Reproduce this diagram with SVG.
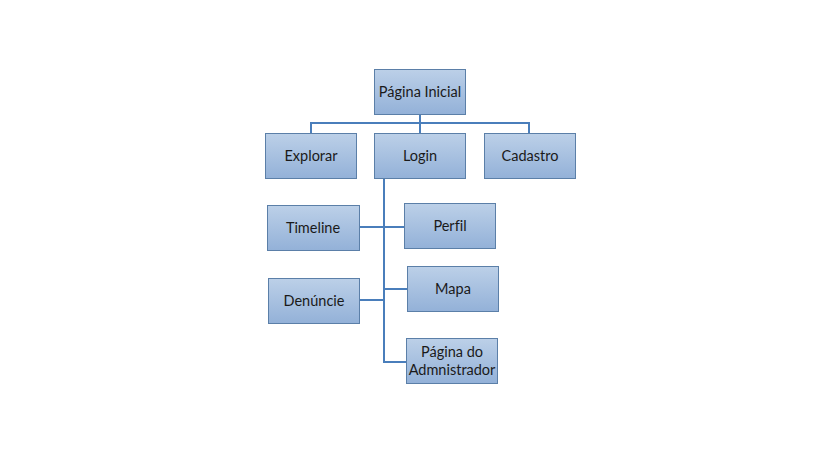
<svg xmlns="http://www.w3.org/2000/svg" width="824" height="475" viewBox="0 0 824 475">
<defs>
<linearGradient id="g" x1="0" y1="0" x2="0" y2="1">
<stop offset="0" stop-color="#bcd0e8"/>
<stop offset="1" stop-color="#93b1d8"/>
</linearGradient>
<style>
.box{fill:url(#g);stroke:#5b7fa8;stroke-width:1}
.t{font-family:Lato,"Liberation Sans",sans-serif;font-size:14.5px;fill:#1a1a1a;text-anchor:middle;font-variant-ligatures:none;font-feature-settings:"liga" 0}
.c{fill:none;stroke:#4a7ebb;stroke-width:2}
</style>
</defs>
<rect width="824" height="475" fill="#ffffff"/>
<g id="connectors">
<path class="c" d="M420 114V123M311 134V123H529V134M420 123V134"/>
<path class="c" d="M384 178V362H406"/>
<path class="c" d="M359 227H404"/>
<path class="c" d="M359 300H384"/>
<path class="c" d="M384 289H407"/>
</g>
<g id="pagina-inicial"><rect class="box" x="374.5" y="69.5" width="91" height="45"/><text class="t" x="420" y="97">Página Inicial</text></g>
<g id="explorar"><rect class="box" x="265.5" y="133.5" width="91" height="45"/><text class="t" x="311" y="161">Explorar</text></g>
<g id="login"><rect class="box" x="374.5" y="133.5" width="91" height="45"/><text class="t" x="420" y="161">Login</text></g>
<g id="cadastro"><rect class="box" x="484.5" y="133.5" width="91" height="45"/><text class="t" x="530" y="161">Cadastro</text></g>
<g id="timeline"><rect class="box" x="267.5" y="205.5" width="92" height="45"/><text class="t" x="313" y="233">Timeline</text></g>
<g id="perfil"><rect class="box" x="404.5" y="203.5" width="91" height="45"/><text class="t" x="450" y="231">Perfil</text></g>
<g id="mapa"><rect class="box" x="407.5" y="266.5" width="91" height="45"/><text class="t" x="453" y="294">Mapa</text></g>
<g id="denuncie"><rect class="box" x="268.5" y="278.5" width="91" height="45"/><text class="t" x="314" y="306">Denúncie</text></g>
<g id="pagina-admnistrador"><rect class="box" x="406.5" y="338.5" width="91" height="45"/><text class="t" x="452" y="357">Página do</text><text class="t" x="452" y="375">Admnistrador</text></g>
</svg>
